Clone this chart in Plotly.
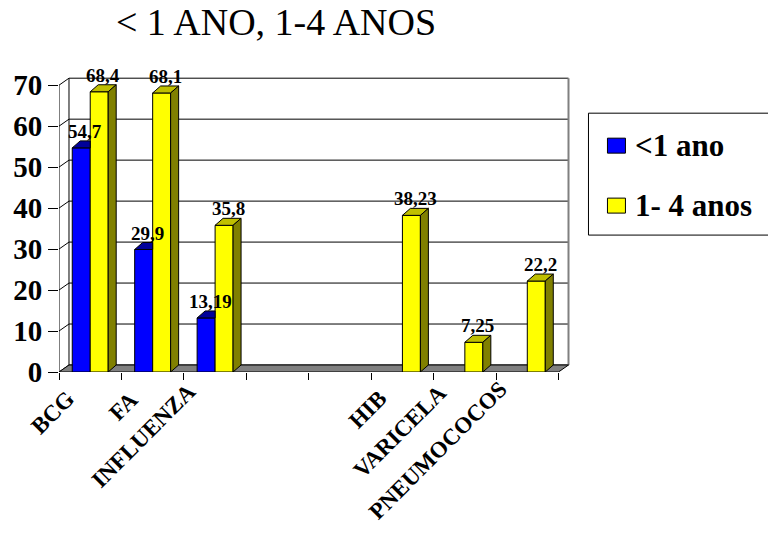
import plotly.graph_objects as go

# ---- data ----
categories = ["BCG", "FA", "INFLUENZA", "", "", "HIB", "VARICELA", "PNEUMOCOCOS"]
menor_1_ano = [54.7, 29.9, 13.19, None, None, None, None, None]
de_1_a_4_anos = [68.4, 68.1, 35.8, None, None, 38.23, 7.25, 22.2]
series_names = ["<1 ano", "1- 4 anos"]
y_ticks = [0, 10, 20, 30, 40, 50, 60, 70]
title_text = "< 1 ANO, 1-4 ANOS"

# ---- geometry (pixels -> axis units) ----
W, H = 768, 533
N = len(categories)
PX_X, PX_Y = 62.5, 4.1          # pixels per x unit / per y unit
X_MAX, Y_MAX = N + 0.2, 72
ML, MB = 59, 161
PLOT_W, PLOT_H = X_MAX * PX_X, Y_MAX * PX_Y
MR, MT = W - ML - PLOT_W, H - MB - PLOT_H

WALL_DX, WALL_DY = 10 / PX_X, 7 / PX_Y
BAR_DX, BAR_DY = 8 / PX_X, 7 / PX_Y
BAR_W = 18 / PX_X
Y_TOP = y_ticks[-1]

FONT = "'Liberation Serif', 'DejaVu Serif', 'Times New Roman', serif"
BLUE, BLUE_TOP = "#0000FF", "#000099"
YEL, YEL_TOP, YEL_SIDE = "#FFFF00", "#BFBF00", "#808000"
FLOOR = "#808080"


def px2paper(px, py):
    return (px - ML) / PLOT_W, (H - MB - py) / PLOT_H


def fmt(v):
    return ("%g" % v).replace(".", ",")


fig = go.Figure()

# front faces of the columns
series = [(menor_1_ano, BLUE, -BAR_W / 2), (de_1_a_4_anos, YEL, BAR_W / 2)]
for (vals, col, off), name in zip(series, series_names):
    xs = [i + 0.5 + off for i, v in enumerate(vals) if v is not None]
    ys = [v for v in vals if v is not None]
    fig.add_trace(go.Bar(x=xs, y=ys, width=BAR_W, name=name, showlegend=False,
                         marker=dict(color=col, line=dict(color="black", width=1)),
                         hoverinfo="skip"))


def poly_trace(pts_list, color):
    xs, ys = [], []
    for pts in pts_list:
        for (x, y) in pts:
            xs.append(x)
            ys.append(y)
        xs.append(pts[0][0])
        ys.append(pts[0][1])
        xs.append(None)
        ys.append(None)
    return go.Scatter(x=xs, y=ys, mode="lines", fill="toself", fillcolor=color,
                      line=dict(color="black", width=1), showlegend=False,
                      hoverinfo="skip")


# top faces of the <1 ano columns (the part not hidden by the neighbour)
blue_tops = []
for i, v in enumerate(menor_1_ano):
    if v is None:
        continue
    x0 = i + 0.5 - BAR_W
    x1 = i + 0.5
    blue_tops.append([(x0, v), (x1, v), (x1, v + BAR_DY), (x0 + BAR_DX, v + BAR_DY)])
fig.add_trace(poly_trace(blue_tops, BLUE_TOP))

# top and side faces of the 1-4 anos columns
yel_tops, yel_sides = [], []
for i, v in enumerate(de_1_a_4_anos):
    if v is None:
        continue
    x0 = i + 0.5
    x1 = i + 0.5 + BAR_W
    yel_tops.append([(x0, v), (x1, v), (x1 + BAR_DX, v + BAR_DY), (x0 + BAR_DX, v + BAR_DY)])
    yel_sides.append([(x1, 0), (x1, v), (x1 + BAR_DX, v + BAR_DY), (x1 + BAR_DX, BAR_DY)])
fig.add_trace(poly_trace(yel_tops, YEL_TOP))
fig.add_trace(poly_trace(yel_sides, YEL_SIDE))

shapes = []
# side wall slants and back wall gridlines
for v in y_ticks:
    shapes.append(dict(type="line", x0=0, y0=v, x1=WALL_DX, y1=v + WALL_DY,
                       line=dict(color="black", width=1), layer="below"))
    shapes.append(dict(type="line", x0=WALL_DX, y0=v + WALL_DY, x1=N + WALL_DX, y1=v + WALL_DY,
                       line=dict(color="black", width=1), layer="below"))
shapes.append(dict(type="line", x0=WALL_DX, y0=WALL_DY, x1=WALL_DX, y1=Y_TOP + WALL_DY,
                   line=dict(color="black", width=1), layer="below"))
shapes.append(dict(type="line", x0=N + WALL_DX, y0=WALL_DY, x1=N + WALL_DX, y1=Y_TOP + WALL_DY,
                   line=dict(color="#808080", width=2), layer="below"))
# floor
shapes.append(dict(type="path",
                   path=f"M0,0 L{N},0 L{N + WALL_DX},{WALL_DY} L{WALL_DX},{WALL_DY} Z",
                   fillcolor=FLOOR, line=dict(color="black", width=1), layer="below"))
# front value axis line
shapes.append(dict(type="line", x0=0, y0=0, x1=0, y1=Y_TOP,
                   line=dict(color="black", width=1), layer="below"))

# legend box and swatches
lx0, ly0 = px2paper(589, 113)
lx1, ly1 = px2paper(780, 235)
shapes.append(dict(type="rect", xref="paper", yref="paper", x0=lx0, y0=ly1, x1=lx1, y1=ly0,
                   line=dict(color="black", width=1), fillcolor="white"))
annotations = []
for name, col, py in [(series_names[0], BLUE, 145), (series_names[1], YEL, 205)]:
    sx0, sy0 = px2paper(608, py - 7)
    sx1, sy1 = px2paper(626, py + 8)
    shapes.append(dict(type="rect", xref="paper", yref="paper", x0=sx0, y0=sy1, x1=sx1, y1=sy0,
                       line=dict(color="black", width=1), fillcolor=col))
    tx, ty = px2paper(634, py)
    annotations.append(dict(xref="paper", yref="paper", x=tx, y=ty, text=name,
                            xanchor="left", yanchor="middle", showarrow=False,
                            font=dict(family=FONT, size=31, color="black", weight="bold")))

# category labels (longer names sit a little higher)
for i, c in enumerate(categories):
    if not c:
        continue
    annotations.append(dict(x=i + 0.5, y=0, text=c, textangle=-45, showarrow=False,
                            xanchor="right", yanchor="top",
                            xshift=-6 - 0.6 * len(c), yshift=-15 + 1.2 * len(c),
                            font=dict(family=FONT, size=23, color="black", weight="bold")))

# value labels
for (vals, _, off) in series:
    for i, v in enumerate(vals):
        if v is None:
            continue
        annotations.append(dict(x=i + 0.5 + off + BAR_DX / 2, y=v + BAR_DY, text=fmt(v),
                                showarrow=False, xanchor="center", yanchor="bottom", yshift=-3,
                                font=dict(family=FONT, size=19, color="black", weight="bold")))

fig.update_layout(
    width=W, height=H,
    margin=dict(l=ML, r=MR, t=MT, b=MB, pad=0, autoexpand=False),
    paper_bgcolor="white", plot_bgcolor="white",
    barmode="overlay", showlegend=False,
    shapes=shapes, annotations=annotations,
    title=dict(text=title_text, x=276 / W, y=1 - 22 / H, xref="container", yref="container",
               xanchor="center", yanchor="middle",
               font=dict(family=FONT, size=38, color="black")),
    xaxis=dict(range=[0, X_MAX], showgrid=False, zeroline=False, showline=False,
               tickmode="array", tickvals=list(range(N + 1)), ticks="outside",
               ticklen=7, tickcolor="black", tickwidth=1, showticklabels=False),
    yaxis=dict(range=[0, Y_MAX], showgrid=False, zeroline=False, showline=False,
               tickmode="array", tickvals=y_ticks, ticks="outside", ticklen=10,
               tickcolor="black", tickwidth=1,
               tickfont=dict(family=FONT, size=29, color="black", weight="bold")),
)

fig.write_html("out.html")
